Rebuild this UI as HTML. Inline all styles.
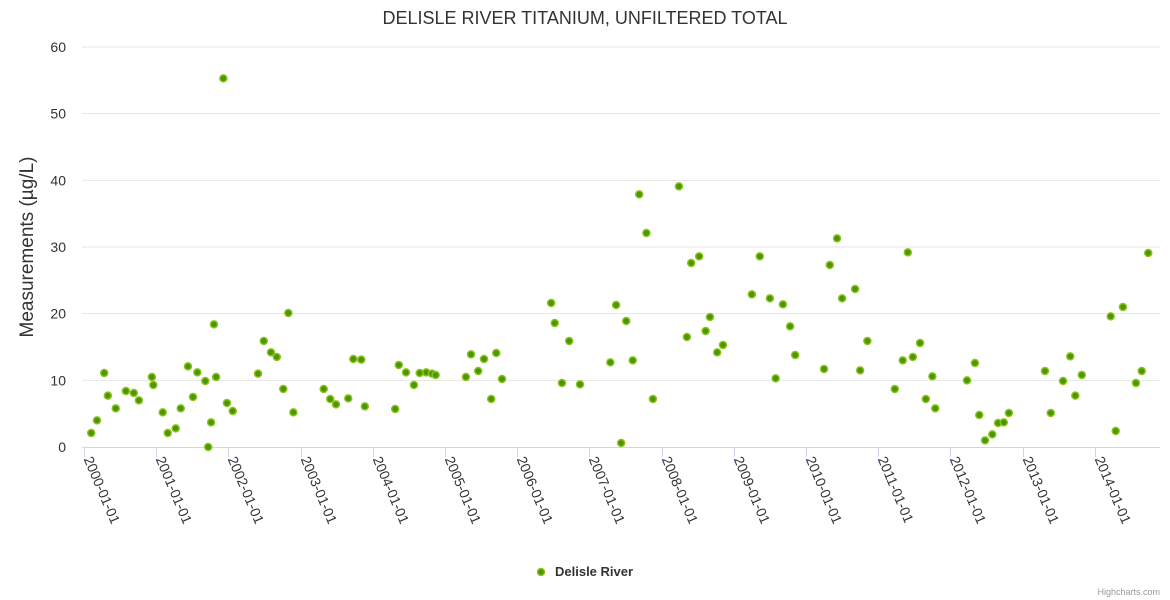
<!DOCTYPE html>
<html><head><meta charset="utf-8"><style>
body{margin:0;background:#fff;}
svg{display:block;font-family:"Liberation Sans",sans-serif;}
</style></head><body>
<svg id="chart" width="1170" height="600">
<text x="585" y="24" text-anchor="middle" font-size="18" fill="#333">DELISLE RIVER TITANIUM, UNFILTERED TOTAL</text>
<text transform="translate(33,247) rotate(-90)" text-anchor="middle" font-size="19" fill="#333">Measurements (µg/L)</text>
<g id="grid"></g><g id="xaxis"></g><g id="points"></g>
<g>
<circle cx="541" cy="572" r="3.5" fill="#4a9600" stroke="#8cc21a" stroke-width="1.5"></circle>
<text x="555" y="576" font-size="13" font-weight="bold" fill="#333">Delisle River</text>
</g>
<text x="1160" y="595" text-anchor="end" font-size="9" fill="#999">Highcharts.com</text>
</svg>
<script>
const yTicks=[0,10,20,30,40,50,60];
const xTickLabels=["2000-01-01","2001-01-01","2002-01-01","2003-01-01","2004-01-01","2005-01-01","2006-01-01","2007-01-01","2008-01-01","2009-01-01","2010-01-01","2011-01-01","2012-01-01","2013-01-01","2014-01-01"];
const dates=[2000.10,2000.18,2000.28,2000.33,2000.44,2000.58,2000.69,2000.76,2000.94,2000.96,2001.09,2001.16,2001.27,2001.34,2001.44,2001.51,2001.57,2001.68,2001.72,2001.76,2001.80,2001.83,2001.93,2001.98,2002.06,2002.41,2002.49,2002.59,2002.67,2002.76,2002.83,2002.90,2003.32,2003.41,2003.49,2003.66,2003.73,2003.84,2003.89,2004.31,2004.36,2004.46,2004.57,2004.65,2004.74,2004.82,2004.87,2005.29,2005.36,2005.46,2005.54,2005.64,2005.71,2005.79,2006.47,2006.52,2006.62,2006.72,2006.87,2007.29,2007.37,2007.44,2007.51,2007.60,2007.69,2007.79,2007.88,2008.24,2008.35,2008.41,2008.52,2008.61,2008.67,2008.77,2008.85,2009.25,2009.36,2009.50,2009.58,2009.68,2009.78,2009.85,2010.25,2010.33,2010.43,2010.50,2010.68,2010.75,2010.85,2011.23,2011.34,2011.41,2011.48,2011.58,2011.66,2011.75,2011.79,2012.23,2012.34,2012.40,2012.48,2012.58,2012.66,2012.74,2012.81,2013.31,2013.39,2013.56,2013.66,2013.73,2013.82,2014.22,2014.29,2014.39,2014.57,2014.65,2014.74];
const values=[2.1,4.0,11.1,7.7,5.8,8.4,8.1,7.0,10.5,9.3,5.2,2.1,2.8,5.8,12.1,7.5,11.2,9.9,0,3.7,18.4,10.5,55.3,6.6,5.4,11.0,15.9,14.2,13.5,8.7,20.1,5.2,8.7,7.2,6.4,7.3,13.2,13.1,6.1,5.7,12.3,11.2,9.3,11.1,11.2,11.0,10.8,10.5,13.9,11.4,13.2,7.2,14.1,10.2,21.6,18.6,9.6,15.9,9.4,12.7,21.3,0.6,18.9,13.0,37.9,32.1,7.2,39.1,16.5,27.6,28.6,17.4,19.5,14.2,15.3,22.9,28.6,22.3,10.3,21.4,18.1,13.8,11.7,27.3,31.3,22.3,23.7,11.5,15.9,8.7,13.0,29.2,13.5,15.6,7.2,10.6,5.8,10.0,12.6,4.8,1.0,1.9,3.6,3.7,5.1,11.4,5.1,9.9,13.6,7.7,10.8,19.6,2.4,21.0,9.6,11.4,29.1];
const NS="http://www.w3.org/2000/svg";
const X0=84,PXY=72.2,Y0=447,PXV=400/60,L=82,R=1160;
const xs=d=>X0+(d-2000)*PXY, ys=v=>Y0-v*PXV;
function mk(t,a,p){const e=document.createElementNS(NS,t);for(const k in a)e.setAttribute(k,a[k]);p.appendChild(e);return e;}
const grid=document.getElementById('grid');
yTicks.forEach(v=>{
  const y=ys(v);
  if(v>0){const g=mk('line',{x1:L,x2:R,y1:y,y2:y,stroke:'#e6e6e6'},grid);
  
  }
  const t=mk('text',{x:66,y:y+5,'text-anchor':'end','font-size':14,fill:'#333'},grid);
  
  
  t.textContent=v;
});
const xa=document.getElementById('xaxis');
const ax=mk('line',{x1:L,x2:R,y1:Y0+0.5,y2:Y0+0.5,stroke:'#ccd6eb'},xa);


xTickLabels.forEach((s,i)=>{
  const x=Math.round(xs(2000+i))+0.5;
  const tk=mk('line',{x1:x,x2:x,y1:Y0,y2:Y0+10,stroke:'#ccd6eb'},xa);
  
  
  const t=mk('text',{transform:`translate(${x-1},${Y0+12}) rotate(67)`,'font-size':14,fill:'#333'},xa);
  
  
  t.textContent=s;
});
const pts=document.getElementById('points');
dates.forEach((d,i)=>{
  const c=mk('circle',{cx:xs(d),cy:ys(values[i]),r:3.5,fill:'#4a9600',stroke:'#8cc21a','stroke-width':1.5},pts);
  
  
});
</script>
</body></html>
